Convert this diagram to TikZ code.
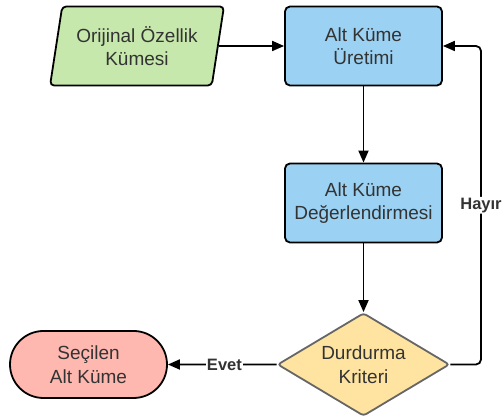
\documentclass[tikz,border=0pt]{standalone}
\usepackage{fontspec}
\setmainfont{Liberation Sans}
\usetikzlibrary{shapes.geometric,shapes.misc,arrows.meta}
\definecolor{txt}{HTML}{333333}
\definecolor{ingreen}{HTML}{C7E8AC}
\definecolor{procblue}{HTML}{9BD1F2}
\definecolor{decyellow}{HTML}{FFE4A1}
\definecolor{endpink}{HTML}{FFB8B0}
\tikzset{
  base/.style={draw=black, line width=1.8pt, text=txt, align=center,
    font=\fontsize{19}{23.5}\selectfont, inner sep=0pt},
  inputbox/.style={base, trapezium, trapezium left angle=76, trapezium right angle=104,
    trapezium stretches=true, minimum width=174pt, minimum height=79pt,
    fill=ingreen, rounded corners=4pt},
  procbox/.style={base, rectangle, rounded corners=5pt, fill=procblue,
    minimum width=157pt, minimum height=79pt},
  decbox/.style={base, diamond, draw=black!60, fill=decyellow, aspect=1.67,
    minimum width=172pt, minimum height=103pt, rounded corners=3pt},
  termbox/.style={base, rounded rectangle, fill=endpink,
    minimum width=157pt, minimum height=67pt},
  flow/.style={line width=1.8pt, -{Triangle[length=12pt,width=10pt]}},
  lbl/.style={font=\fontsize{16.5}{18}\selectfont\bfseries, text=txt, fill=white,
    inner sep=1pt}
}
\begin{document}
\begin{tikzpicture}[x=1pt,y=1pt]
  \useasboundingbox (0,0) rectangle (504,419);
  \node[inputbox] (inp) at (137,373) {Orijinal Özellik\\Kümesi};
  \node[procbox] (gen) at (363.5,373) {Alt Küme\\Üretimi};
  \node[procbox] (eval) at (363.5,216) {Alt Küme\\Değerlendirmesi};
  \node[decbox] (stop) at (363.5,54.5) {Durdurma\\Kriteri};
  \node[termbox] (out) at (88.5,54.5) {Seçilen\\Alt Küme};
  \coordinate (corner) at (481,54.5);

  \draw[flow] (inp) -- (gen);
  \draw[flow] (gen) -- (eval);
  \draw[flow] (eval) -- (stop);
  \draw[flow] (stop) -- node[lbl, pos=0.48] {Evet} (out);
  \draw[flow, rounded corners=5pt] (stop.east) -- (corner)
    -- node[lbl, pos=0.5] {Hayır} (corner |- gen.east) -- (gen.east);
\end{tikzpicture}
\end{document}
